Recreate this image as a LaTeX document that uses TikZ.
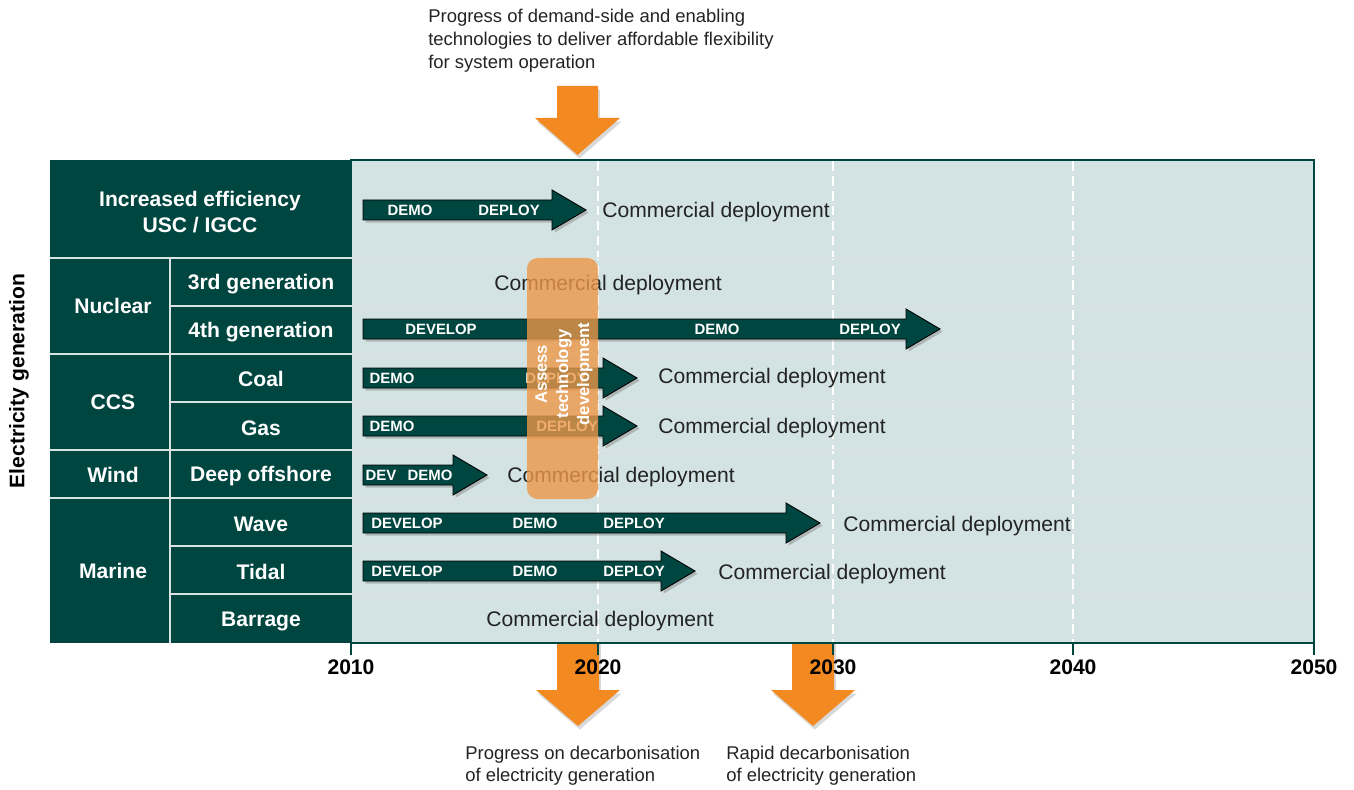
\documentclass[tikz,border=0pt]{standalone}
\usepackage{fontspec}
\setmainfont{Liberation Sans}
\usetikzlibrary{shadows}

\definecolor{tealdark}{RGB}{0,70,64}
\definecolor{tealpale}{RGB}{211,226,226}
\definecolor{orangeA}{RGB}{243,138,33}
\definecolor{orangeB}{RGB}{236,152,72}
\definecolor{txtgrey}{RGB}{35,35,35}

\tikzset{
	hdr/.style={text=white, font=\fontsize{12}{14.5}\selectfont\bfseries, align=center, inner sep=0pt},
	tag/.style={text=white, font=\fontsize{8.5}{10}\selectfont\bfseries, inner sep=0pt},
	comm/.style={anchor=west, text=txtgrey, font=\fontsize{12}{14}\selectfont, inner sep=0pt},
	note/.style={anchor=north west, align=left, text=txtgrey, font=\fontsize{10.5}{13}\selectfont, inner sep=0pt},
	yr/.style={font=\fontsize{12}{14}\selectfont\bfseries, inner sep=0pt},
	garrow/.style={fill=tealdark, draw=black, line width=0.5pt, drop shadow={shadow xshift=1.5pt, shadow yshift=-1.5pt, opacity=0.45}},
	oarrow/.style={fill=orangeA, drop shadow={shadow xshift=1pt, shadow yshift=-2pt, opacity=0.3}},
}

\begin{document}
\begin{tikzpicture}[x=0.02cm, y=-0.02cm]
		\useasboundingbox (0,0) rectangle (1354,790);
		
		% 橙色箭头
		\path[oarrow] (557,86) -- (598,86) -- (598,118) -- (620,118) -- (577.5,155) -- (535,118) -- (557,118) -- cycle;
		\foreach \cx in {578, 813} {
			\path[oarrow] (\cx-21,640) -- (\cx+21,640) -- (\cx+21,690) -- (\cx+42,690) -- (\cx,726) -- (\cx-42,690) -- (\cx-21,690) -- cycle;
		}
		
		% 表格
		\draw[tealdark, fill=tealpale, line width=0.6pt] (351,160) rectangle (1314,643);
		\fill[tealdark] (50,160) rectangle (351,643);
		\foreach \xx in {598, 833, 1073} {
			\draw[white, line width=0.6pt, dash pattern=on 5.5pt off 3pt] (\xx,161) -- (\xx,642);
		}
		\foreach \yy in {258, 354, 450, 498} {
			\draw[white!85!tealdark, line width=0.8pt] (50,\yy) -- (1313,\yy);
		}
		\foreach \yy in {306, 402, 546, 594} {
			\draw[white!85!tealdark, line width=0.8pt] (170,\yy) -- (1313,\yy);
		}
		\draw[white!85!tealdark, line width=0.8pt] (170,258) -- (170,643);
		
		% 年份
		\foreach \yr/\xx in {2010/351, 2020/598, 2030/833, 2040/1073, 2050/1314} {
			\draw[tealdark, line width=0.6pt] (\xx,643) -- (\xx,655);
			\node[yr] (y\yr) at (\xx,667) {\yr};
		}
		
		% 行标题
		\node[yr, rotate=90] (elec) at (19,381) {Electricity generation};
		\node[hdr] (eff) at (200,212) {Increased efficiency\\USC / IGCC};
		\node[hdr] (nuc) at (113,306) {Nuclear};
		\node[hdr] (ccs) at (113,402) {CCS};
		\node[hdr] (wind) at (113,475) {Wind};
		\node[hdr] (marine) at (113,571) {Marine};
		\foreach \nm/\yy/\txt in {gen3/284/3rd generation, gen4/332/4th generation, coal/379/Coal, gas/428/Gas, offsh/476/Deep offshore, wave/524/Wave, tidal/572/Tidal, barr/621/Barrage} {
			\node[hdr] (\nm) at (261,\yy) {\txt};
		}
		
		% 绿色箭头
		\foreach \yy/\tip in {210/586, 329/940, 378/637, 426/637, 475/487, 523/820, 571/695} {
			\path[garrow] (363,\yy-10) -- (\tip-34,\yy-10) -- (\tip-34,\yy-20) -- (\tip,\yy) -- (\tip-34,\yy+20) -- (\tip-34,\yy+10) -- (363,\yy+10) -- cycle;
		}
		\foreach \nm/\xx/\yy/\txt in {a1/410/210/DEMO, a2/509/210/DEPLOY, b1/441/329/DEVELOP, b2/717/329/DEMO, b3/870/329/DEPLOY, c1/392/378/DEMO, c2/556/378/DEPLOY, d1/392/426/DEMO, d2/567/426/DEPLOY, e1/381/475/DEV, e2/430/475/DEMO, f1/407/523/DEVELOP, f2/535/523/DEMO, f3/634/523/DEPLOY, g1/407/571/DEVELOP, g2/535/571/DEMO, g3/634/571/DEPLOY} {
			\node[tag] (\nm) at (\xx,\yy) {\txt};
		}
		\foreach \nm/\xx/\yy in {cd1/602/212, cd2/494/285, cd3/658/378, cd4/658/428, cd5/507/477, cd6/843/526, cd7/718/574, cd8/486/621} {
			\node[comm] (\nm) at (\xx,\yy) {Commercial deployment};
		}
		
		% 评估框
		\path[fill=orangeB, fill opacity=0.8, rounded corners=6pt] (527,258) rectangle (598,499);
		\node[hdr, rotate=90, font=\fontsize{9.5}{12}\selectfont\bfseries] (assess) at (564,374) {Assess\\technology\\development};
		
		% 说明文字
		\node[note] (topnote) at (428,9) {Progress of demand-side and enabling\\technologies to deliver affordable flexibility\\for system operation};
		\node[note, font=\fontsize{10.5}{12.5}\selectfont] (botnote1) at (465,746) {Progress on decarbonisation\\of electricity generation};
		\node[note, font=\fontsize{10.5}{12.5}\selectfont] (botnote2) at (726,746) {Rapid decarbonisation\\of electricity generation};
	\end{tikzpicture}
\end{document}
